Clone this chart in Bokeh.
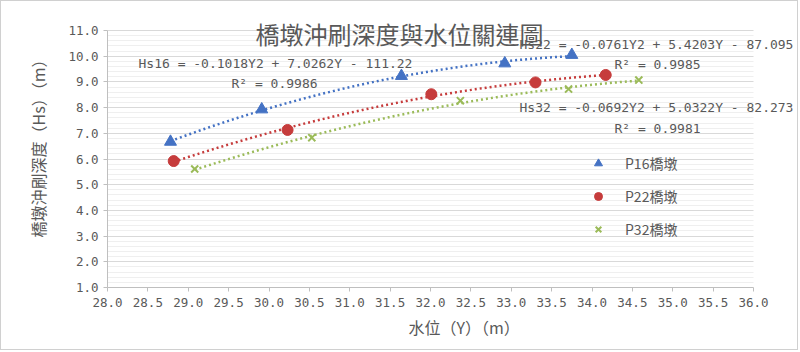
import numpy as np
from bokeh.plotting import figure
from bokeh.models import (Range1d, SingleIntervalTicker, NumeralTickFormatter,
                          Label, Legend, LegendItem, BoxAnnotation, Title)
from bokeh.embed import file_html
from bokeh.resources import INLINE

# ---- data ----
water_16 = [28.78, 29.91, 31.64, 32.92, 33.75]
scour_16 = [6.67, 7.93, 9.23, 9.72, 10.05]
water_22 = [28.82, 30.23, 32.01, 33.30, 34.17]
scour_22 = [5.92, 7.13, 8.52, 8.98, 9.27]
water_32 = [29.08, 30.53, 32.37, 33.71, 34.58]
scour_32 = [5.61, 6.83, 8.27, 8.72, 9.07]
series_names = ["P16橋墩", "P22橋墩", "P32橋墩"]
equations = ["Hs16 = -0.1018Y2 + 7.0262Y - 111.22",
             "Hs22 = -0.0761Y2 + 5.4203Y - 87.095",
             "Hs32 = -0.0692Y2 + 5.0322Y - 82.273"]
r2_texts = ["R² = 0.9986", "R² = 0.9985", "R² = 0.9981"]
title_text = "橋墩沖刷深度與水位關連圖"
x_label = "水位（Y）（m）"
y_label = "橋墩沖刷深度（Hs）（m）"
x_lo, x_hi = 28.0, 36.0
y_lo, y_hi = 1.0, 11.0

colors = ["#4472C4", "#C63C3C", "#9BBB59"]
GREY = "#595959"
MONO = "DejaVu Sans Mono"
CJK = "Noto Sans CJK TC"

# layout: the frame reaches the top and right edges so that texts placed there
# are not clipped; axes and grid are bounded to the real value ranges.
W, H = 798, 350
LEFT, BOTTOM = 106, 64
px_x = 646 / (x_hi - x_lo)
px_y = 257 / (y_hi - y_lo)
x_end = x_lo + (W - LEFT) / px_x
y_end = y_lo + (H - BOTTOM) / px_y

p = figure(width=W, height=H, output_backend="svg", toolbar_location=None,
           title=None, x_range=Range1d(x_lo, x_end), y_range=Range1d(y_lo, y_end),
           min_border_left=LEFT, min_border_right=0, min_border_top=0,
           min_border_bottom=BOTTOM)
p.styles = {"border": "1px solid #d0d0d0"}
p.outline_line_color = None
p.background_fill_color = "white"
p.border_fill_color = "white"

# axes
p.xaxis.ticker = SingleIntervalTicker(interval=0.5, num_minor_ticks=0)
p.yaxis.ticker = SingleIntervalTicker(interval=1, num_minor_ticks=5)
p.xaxis.bounds = (x_lo, x_hi)
p.yaxis.bounds = (y_lo, y_hi)
for ax in (p.xaxis[0], p.yaxis[0]):
    ax.formatter = NumeralTickFormatter(format="0.0")
    ax.axis_line_color = "#bfbfbf"
    ax.major_tick_line_color = "#bfbfbf"
    ax.major_tick_out = 4
    ax.major_tick_in = 0
    ax.minor_tick_line_color = None
    ax.major_label_text_font = MONO
    ax.major_label_text_font_size = "12.5px"
    ax.major_label_text_color = GREY
p.xaxis.major_label_standoff = 6
p.yaxis.major_label_standoff = 5
p.yaxis.axis_label = y_label
p.yaxis.axis_label_text_font = CJK
p.yaxis.axis_label_text_font_size = "16px"
p.yaxis.axis_label_text_font_style = "normal"
p.yaxis.axis_label_text_color = GREY
p.yaxis.axis_label_standoff = 15

p.xgrid.grid_line_color = None
p.ygrid.grid_line_color = "#d9d9d9"
p.ygrid.minor_grid_line_color = "#efefef"
p.ygrid.bounds = (y_lo, y_hi)

# white mask hiding the grid right of the real plot area
p.add_layout(BoxAnnotation(left=x_hi, fill_color="white", fill_alpha=1,
                           line_color=None, level="underlay"))

series = [(water_16, scour_16), (water_22, scour_22), (water_32, scour_32)]
markers = ["triangle", "circle", "x"]
sizes = [12, 11, 10]
items = []
for (xs, ys), c, m, s, name in zip(series, colors, markers, sizes, series_names):
    coef = np.polyfit(xs, ys, 2)
    xx = np.linspace(min(xs), max(xs), 120)
    p.line(xx, np.polyval(coef, xx), line_color=c, line_width=2.5,
           line_dash="2 3")
    if m == "x":
        r = p.scatter(xs, ys, marker=m, size=s, line_color=c, line_width=2)
    else:
        r = p.scatter(xs, ys, marker=m, size=s, fill_color=c, line_color=c)
    items.append(LegendItem(label=name, renderers=[r]))

legend = Legend(items=items, location=(481, 48), orientation="vertical",
                padding=0, margin=0, spacing=13, glyph_width=20,
                glyph_height=20, label_standoff=17,
                label_text_font=CJK, label_text_font_size="14px",
                label_text_color=GREY, border_line_color=None,
                background_fill_alpha=0)
p.add_layout(legend)


def canvas_label(x, y, text, align, font, size):
    p.add_layout(Label(x=x, y=y, x_units="canvas", y_units="canvas", text=text,
                       text_align=align, text_baseline="middle", text_font=font,
                       text_font_size=size, text_color=GREY))


# equation labels (canvas pixel positions)
eq_pos = [(136, 60.5), (517, 42), (517, 105)]
r2_pos = [(272, 80.5), (655, 62), (655, 126)]
for (ex, ey), eq, (rx, ry), r2 in zip(eq_pos, equations, r2_pos, r2_texts):
    canvas_label(ex, ey, eq, "left", MONO, "13px")
    canvas_label(rx, ry, r2, "center", MONO, "13px")

canvas_label(397, 31, title_text, "center", CJK, "24px")

p.add_layout(Title(text=x_label, align="left", offset=301, standoff=7,
                   text_font=CJK, text_font_size="16px",
                   text_font_style="normal", text_color=GREY), "below")

open("out.html", "w").write(file_html(p, INLINE))
